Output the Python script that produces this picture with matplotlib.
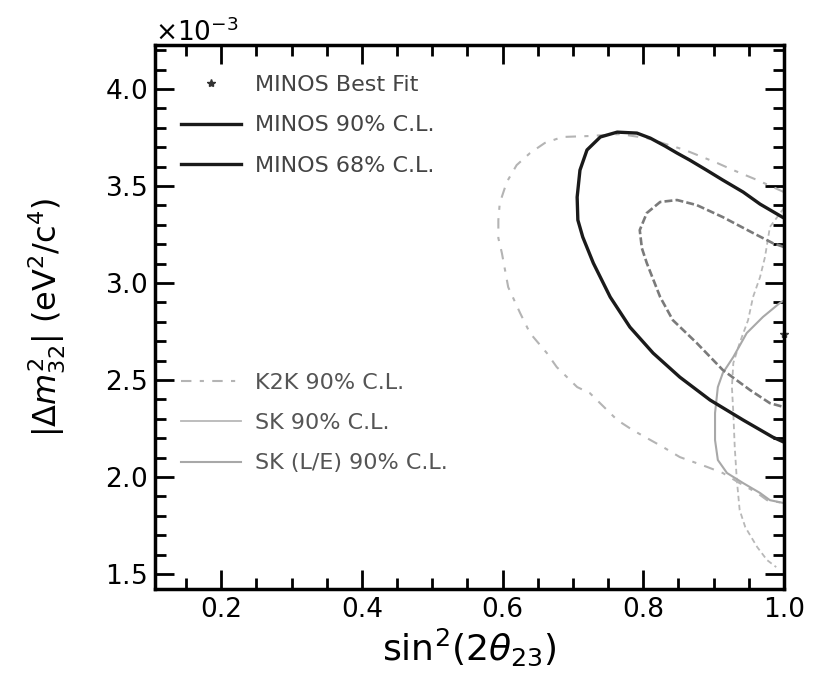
import matplotlib
matplotlib.use("Agg")
import matplotlib.pyplot as plt
from matplotlib.lines import Line2D
from matplotlib.ticker import MultipleLocator
import numpy as np

# ---- data (sin^2(2theta), |dm^2| in units of 1e-3 eV^2/c^4) ----
minos90_x = [1.0, 0.966, 0.942, 0.913, 0.890, 0.866, 0.848, 0.831, 0.810, 0.791, 0.763,
             0.739, 0.720, 0.710, 0.706, 0.707, 0.714, 0.729, 0.753, 0.781, 0.814, 0.852,
             0.895, 0.942, 0.984, 1.0]
minos90_y = [3.335, 3.407, 3.469, 3.531, 3.582, 3.634, 3.670, 3.706, 3.747, 3.773, 3.778,
             3.753, 3.686, 3.582, 3.443, 3.325, 3.237, 3.103, 2.928, 2.773, 2.639, 2.515,
             2.397, 2.294, 2.206, 2.180]

minos68_x = [1.0, 0.984, 0.956, 0.913, 0.876, 0.848, 0.824, 0.805, 0.795, 0.798, 0.805,
             0.824, 0.842, 0.876, 0.913, 0.952, 0.980, 1.0]
minos68_y = [3.186, 3.206, 3.258, 3.340, 3.402, 3.428, 3.418, 3.361, 3.273, 3.180, 3.103,
             2.928, 2.809, 2.691, 2.552, 2.448, 2.381, 2.361]

k2k_x = [1.0, 0.962, 0.928, 0.905, 0.859, 0.805, 0.767, 0.724, 0.685, 0.660, 0.639, 0.620,
         0.606, 0.596, 0.594, 0.594, 0.599, 0.608, 0.625, 0.639, 0.663, 0.677, 0.706, 0.724,
         0.763, 0.785, 0.828, 0.852, 0.891, 0.913, 0.937, 0.962, 0.976, 1.0]
k2k_y = [3.469, 3.531, 3.582, 3.619, 3.686, 3.747, 3.768, 3.758, 3.753, 3.722, 3.670, 3.608,
         3.521, 3.412, 3.325, 3.232, 3.155, 2.979, 2.845, 2.742, 2.639, 2.567, 2.464, 2.433,
         2.294, 2.242, 2.155, 2.103, 2.052, 2.021, 1.969, 1.918, 1.881, 1.866]

sk_x = [1.0, 0.980, 0.973, 0.966, 0.956, 0.949, 0.937, 0.928, 0.926, 0.928, 0.930, 0.933,
        0.937, 0.945, 0.962, 0.976, 0.989]
sk_y = [3.387, 3.289, 3.134, 3.031, 2.928, 2.809, 2.691, 2.588, 2.464, 2.330, 2.155, 1.985,
        1.830, 1.742, 1.639, 1.572, 1.536]

skle_x = [1.0, 0.994, 0.970, 0.947, 0.928, 0.913, 0.906, 0.902, 0.902, 0.906, 0.919, 0.942,
          0.966, 0.980, 1.0]
skle_y = [2.910, 2.897, 2.825, 2.742, 2.619, 2.536, 2.464, 2.330, 2.191, 2.088, 2.021, 1.969,
          1.918, 1.881, 1.866]

best_x = [1.0]
best_y = [2.74]

xticks = [0.2, 0.4, 0.6, 0.8, 1.0]
yticks = [1.5, 2.0, 2.5, 3.0, 3.5, 4.0]

labels_top = ["MINOS Best Fit", "MINOS 90% C.L.", "MINOS 68% C.L."]
labels_bot = ["K2K 90% C.L.", "SK 90% C.L.", "SK (L/E) 90% C.L."]

scale = 1e-3

plt.rcParams['font.family'] = ['DejaVu Sans']
fig = plt.figure(figsize=(8.13, 6.85), dpi=100)
ax = fig.add_axes([0.1907, 0.1401, 0.7736, 0.7942])

def sc(v):
    return np.array(v) * scale

k2k_style = dict(color='#b4b4b4', lw=1.5, ls=(0, (5, 4, 2, 4)))
sk_style = dict(color='#b8b8b8', lw=1.3)
skle_style = dict(color='#a8a8a8', lw=1.5)

ax.plot(k2k_x, sc(k2k_y), **k2k_style)
ax.plot(sk_x, sc(sk_y), color='#b8b8b8', lw=1.3, ls=(0, (3, 2)))
ax.plot(skle_x, sc(skle_y), **skle_style)
ax.plot(minos68_x, sc(minos68_y), color='#7a7a7a', lw=1.9, ls=(0, (3, 1.2)))
ax.plot(minos90_x, sc(minos90_y), color='#1a1a1a', lw=2.4)
ax.plot(best_x, sc(best_y), ls='none', marker='*', color='#444444', ms=6, clip_on=False)

ax.set_xlim(0.106, 1.0)
ax.set_ylim(1.423e-3, 4.227e-3)
ax.set_xticks(xticks)
ax.set_yticks(sc(yticks))
ax.xaxis.set_minor_locator(MultipleLocator(0.05))
ax.yaxis.set_minor_locator(MultipleLocator(0.1e-3))
ax.ticklabel_format(axis='y', style='sci', scilimits=(-3, -3), useMathText=True)
ax.yaxis.get_offset_text().set_fontsize(19)

ax.tick_params(which='both', direction='in', top=True, right=True, width=2, colors='black')
ax.tick_params(which='major', length=14, labelsize=19, pad=6)
ax.tick_params(which='minor', length=8)
for s in ax.spines.values():
    s.set_linewidth(2.5)

ax.set_xlabel(r'sin$^2$(2$\theta_{23}$)', fontsize=26, labelpad=2)
ax.set_ylabel(r'$|\Delta m^2_{32}|$ (eV$^2$/c$^4$)', fontsize=23, labelpad=26)

h_top = [Line2D([], [], ls='none', marker='*', color='#333333', ms=6),
         Line2D([], [], color='#1a1a1a', lw=2.4),
         Line2D([], [], color='#1a1a1a', lw=2.4)]
leg1 = ax.legend(h_top, labels_top, loc='upper left', bbox_to_anchor=(0.042, 0.945),
                 frameon=False, fontsize=16, handlelength=2.7, handletextpad=0.6,
                 labelspacing=0.92, borderpad=0, borderaxespad=0)
for t in leg1.get_texts():
    t.set_color('#444444')
ax.add_artist(leg1)

h_bot = [Line2D([], [], **k2k_style),
         Line2D([], [], **sk_style),
         Line2D([], [], **skle_style)]
leg2 = ax.legend(h_bot, labels_bot, loc='upper left', bbox_to_anchor=(0.042, 0.398),
                 frameon=False, fontsize=16, handlelength=2.7, handletextpad=0.6,
                 labelspacing=0.92, borderpad=0, borderaxespad=0)
for t in leg2.get_texts():
    t.set_color('#555555')

fig.savefig('out.png', dpi=100)
